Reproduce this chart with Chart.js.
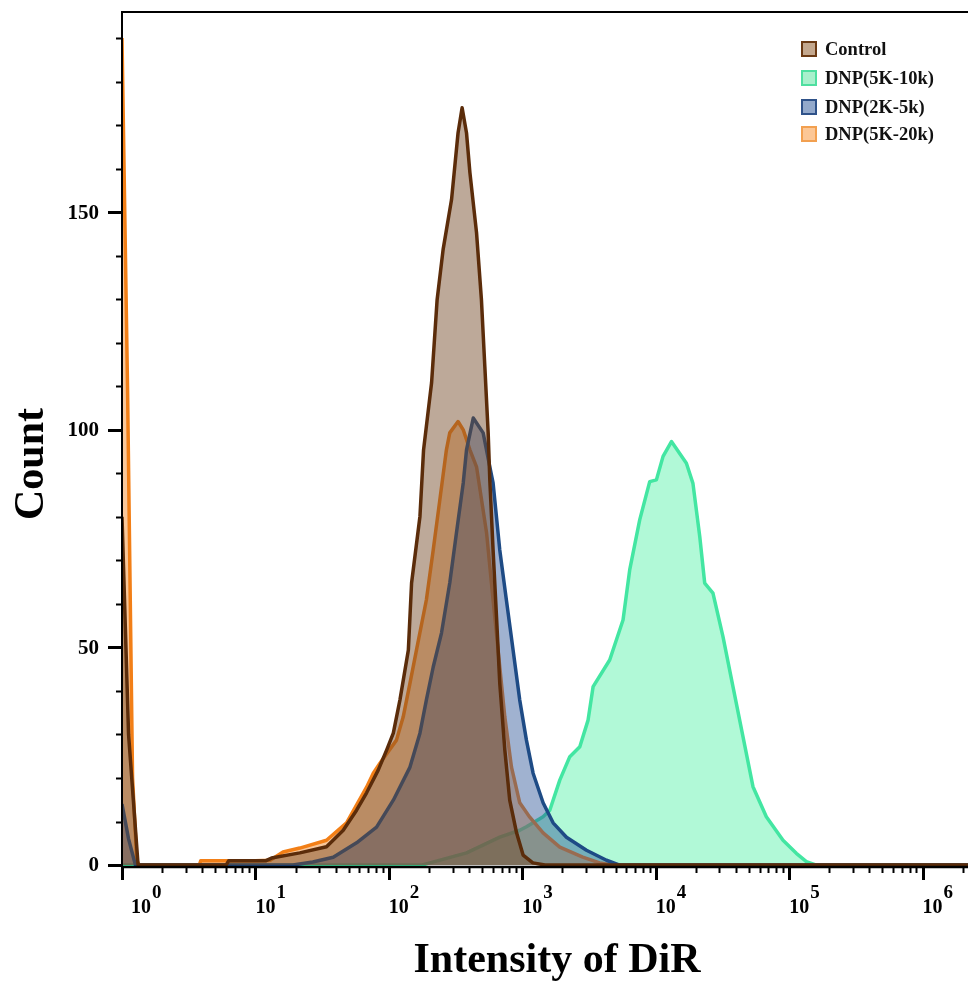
<!DOCTYPE html>
<html><head><meta charset="utf-8">
<script src="https://cdn.jsdelivr.net/npm/chart.js@4"></script>
<style>html,body{margin:0;padding:0;background:#fff}#wrap{width:968px;height:983px}</style>
</head><body><div id="wrap"><canvas id="c" width="968" height="983"></canvas></div>
<script>
// ---- data (intensity of DiR, count) ----
const seriesLabels = ['Control', 'DNP(5K-10k)', 'DNP(2K-5k)', 'DNP(5K-20k)'];

const controlX = [1, 1.12, 1.32, 6.03, 6.31, 12.0, 13.2, 21.5, 34.1, 45.5, 57.3, 68.1, 83.2, 96.2, 108, 121, 140, 148, 171, 182, 209, 230, 255, 295, 330, 354, 382, 405, 454, 494, 524, 555, 571, 604, 641, 678, 740, 805, 906, 1014, 1200, 1479, 2190000];
const controlY = [80, 30, 0, 0, 1, 1, 1.6, 2.8, 4.2, 8.0, 12.6, 16.6, 21.8, 26.4, 30.3, 37.9, 49.4, 64.8, 80.1, 95.4, 110.8, 129.9, 141.4, 152.9, 168.2, 174.0, 168.2, 159.1, 145.3, 129.9, 114.5, 99.3, 88.5, 72.4, 57.0, 41.8, 26.4, 14.9, 7.4, 2.3, 0.5, 0, 0];

const dnp5k10kX = [1, 178, 203, 382, 678, 957, 1074, 1432, 1607, 1910, 2270, 2698, 3112, 3396, 4519, 5689, 6383, 7586, 9016, 10120, 11350, 13120, 16980, 19010, 21380, 23280, 26850, 31920, 37930, 45080, 53580, 67450, 89950, 113200, 134600, 160000, 2190000];
const dnp5k10kY = [0, 0, 0.5, 2.8, 6.4, 8.0, 8.8, 11.1, 12.6, 19.5, 24.9, 27.2, 33.3, 41.0, 47.1, 56.3, 67.8, 79.3, 88.1, 88.5, 93.9, 97.3, 92.3, 87.7, 75.5, 64.8, 62.5, 52.5, 41.0, 29.5, 18.0, 11.1, 5.7, 2.7, 0.8, 0, 0];

const dnp2k5kX = [1, 1.12, 1.26, 19.1, 26.9, 38.3, 57.3, 80.9, 108, 144, 171, 191, 215, 248, 286, 321, 361, 382, 429, 509, 571, 604, 678, 760, 853, 957, 1074, 1205, 1432, 1702, 2143, 3027, 4276, 5370, 2190000];
const dnp2k5kY = [14, 6, 0, 0, 0.7, 1.8, 5.1, 8.7, 14.9, 22.5, 30.3, 37.9, 45.5, 53.3, 64.8, 76.3, 87.8, 95.4, 102.7, 99.3, 91.5, 87.8, 72.4, 60.9, 49.4, 37.9, 28.7, 21.1, 14.3, 9.7, 6.4, 3.4, 1.1, 0, 0];

const dnp5k20kX = [1, 1.10, 1.20, 1.29, 1.35, 3.80, 3.89, 10, 12.9, 16.1, 21.5, 34.1, 48.2, 68.1, 76.4, 85.7, 114, 128, 144, 161, 191, 215, 241, 270, 286, 330, 361, 405, 454, 540, 604, 678, 740, 830, 957, 1138, 1432, 1910, 2838, 3802, 4786, 2190000];
const dnp5k20kY = [190, 110, 20, 1, 0, 0, 1, 1, 1.1, 3.0, 3.9, 5.7, 9.7, 17.9, 21.1, 23.4, 28.7, 34.0, 41.8, 49.4, 60.9, 72.4, 83.9, 95.4, 99.3, 101.9, 100.0, 95.4, 91.5, 76.3, 60.9, 45.5, 34.0, 22.5, 14.3, 11.0, 7.4, 4.1, 1.8, 0.5, 0, 0];

const xTickExponents = [0, 1, 2, 3, 4, 5, 6];
const yMajorTicks = [0, 50, 100, 150];
const yMinorStep = 10;
const xAxisTitle = 'Intensity of DiR';
const yAxisTitle = 'Count';

// ---- styles ----
const lineColors = ['#5B2C0A', '#43E6A2', '#1E4B85', '#F27F17'];
const fillColors = ['rgba(115,72,38,0.47)', 'rgba(70,240,160,0.42)', 'rgba(45,85,150,0.45)', 'rgba(242,135,40,0.47)'];
const legendFills = ['#C4A88E', '#A8F0CC', '#93A9CB', '#FCC796'];
const legendBorders = ['#6B3A14', '#4EDFA0', '#2F5289', '#F2A050'];
const drawOrder = [0, 3, 1, 2];
const SERIF = '"Liberation Serif", "Times New Roman", serif';

function pts(xs, ys) { return xs.map((x, i) => ({ x: x, y: ys[i] })); }
const seriesData = [pts(controlX, controlY), pts(dnp5k10kX, dnp5k10kY), pts(dnp2k5kX, dnp2k5kY), pts(dnp5k20kX, dnp5k20kY)];

const datasets = seriesLabels.map((lab, i) => ({
  label: lab,
  data: seriesData[i],
  borderColor: lineColors[i],
  backgroundColor: fillColors[i],
  borderWidth: 3.5,
  borderJoinStyle: 'round',
  fill: 'origin',
  pointRadius: 0,
  tension: 0,
  order: drawOrder[i]
}));

const decor = {
  id: 'decor',
  afterDraw(chart) {
    const ctx = chart.ctx, a = chart.chartArea;
    const xs = chart.scales.x, ys = chart.scales.y;
    ctx.save();
    ctx.strokeStyle = '#000';
    ctx.lineCap = 'butt';
    // frame
    ctx.lineWidth = 2;
    ctx.beginPath();
    ctx.moveTo(a.left, a.bottom + 1); ctx.lineTo(a.left, a.top);
    ctx.lineTo(a.right, a.top);
    ctx.stroke();
    ctx.lineWidth = 2.5;
    ctx.beginPath(); ctx.moveTo(a.left, a.bottom); ctx.lineTo(a.right, a.bottom); ctx.stroke();

    // y ticks
    for (let v = 0; v <= ys.max; v += yMinorStep) {
      const y = Math.round(ys.getPixelForValue(v)) + 0.5;
      const major = yMajorTicks.includes(v);
      ctx.lineWidth = major ? 3 : 2;
      ctx.beginPath();
      ctx.moveTo(a.left - (major ? 14 : 6), y); ctx.lineTo(a.left, y);
      ctx.stroke();
    }
    ctx.fillStyle = '#000';
    ctx.font = 'bold 21px ' + SERIF;
    ctx.textAlign = 'right';
    ctx.textBaseline = 'middle';
    yMajorTicks.forEach(v => {
      ctx.fillText(String(v), a.left - 23, ys.getPixelForValue(v) + 1);
    });

    // x ticks
    for (const k of xTickExponents) {
      for (let m = 1; m <= 9; m++) {
        const v = m * Math.pow(10, k);
        if (v > xs.max) break;
        const x = Math.round(xs.getPixelForValue(v)) + 0.5;
        const major = m === 1;
        ctx.lineWidth = major ? 3 : 2;
        ctx.beginPath();
        ctx.moveTo(x, a.bottom); ctx.lineTo(x, a.bottom + (major ? 13 : 6));
        ctx.stroke();
      }
    }
    ctx.textAlign = 'left';
    ctx.textBaseline = 'alphabetic';
    xTickExponents.forEach(k => {
      let x = xs.getPixelForValue(Math.pow(10, k));
      if (x < a.left + 9) x = a.left + 9;
      ctx.font = 'bold 20px ' + SERIF;
      ctx.fillText('10', x, a.bottom + 46);
      const w = ctx.measureText('10').width;
      ctx.font = 'bold 19px ' + SERIF;
      ctx.fillText(String(k), x + w + 1, a.bottom + 31);
    });

    // axis titles
    ctx.font = 'bold 42px ' + SERIF;
    ctx.textAlign = 'center';
    ctx.fillText(xAxisTitle, (a.left + a.right) / 2 + 12, 972);
    ctx.save();
    ctx.translate(43, 464);
    ctx.rotate(-Math.PI / 2);
    ctx.fillText(yAxisTitle, 0, 0);
    ctx.restore();

    // legend
    const rowsY = [49, 78, 107, 134];
    ctx.font = 'bold 18.5px ' + SERIF;
    ctx.textAlign = 'left';
    ctx.textBaseline = 'middle';
    chart.data.datasets.forEach((ds, i) => {
      const cy = rowsY[i];
      ctx.fillStyle = legendFills[i];
      ctx.fillRect(802, cy - 7, 14, 14);
      ctx.strokeStyle = legendBorders[i];
      ctx.lineWidth = 2;
      ctx.strokeRect(802, cy - 7, 14, 14);
      ctx.fillStyle = '#111';
      ctx.fillText(ds.label, 825, cy + 1);
    });
    ctx.restore();
  }
};

new Chart(document.getElementById('c'), {
  type: 'line',
  data: { datasets: datasets },
  options: {
    responsive: false,
    animation: false,
    devicePixelRatio: 1,
    layout: { padding: { left: 122, top: 12, right: 0, bottom: 116 } },
    scales: {
      x: { type: 'logarithmic', min: 1, max: 2190000, display: false },
      y: { type: 'linear', min: -0.45, max: 196, display: false }
    },
    plugins: { legend: { display: false }, tooltip: { enabled: false } }
  },
  plugins: [decor]
});
</script>
</body></html>
